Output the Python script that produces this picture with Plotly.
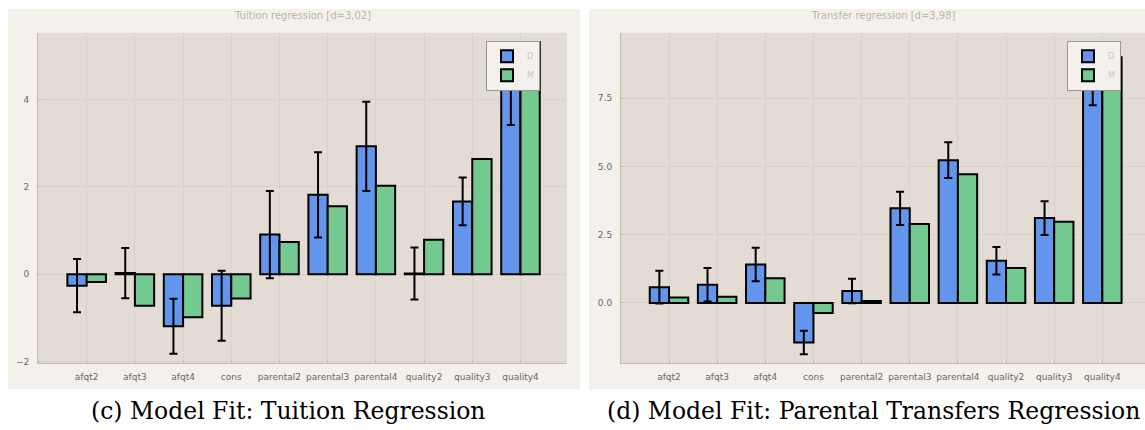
import plotly.graph_objects as go

W, H = 1145, 430

categories = ["afqt2", "afqt3", "afqt4", "cons", "parental2",
              "parental3", "parental4", "quality2", "quality3", "quality4"]

# Tuition regression
tuition_D = [-0.26, 0.03, -1.19, -0.72, 0.91, 1.82, 2.93, 0.02, 1.67, 4.30]
tuition_D_err = [0.61, 0.575, 0.63, 0.80, 1.00, 0.975, 1.02, 0.595, 0.545, 0.88]
tuition_M = [-0.175, -0.72, -0.98, -0.555, 0.74, 1.56, 2.03, 0.79, 2.64, 5.32]

# Transfer regression
transfer_D = [0.58, 0.67, 1.41, -1.45, 0.44, 3.47, 5.23, 1.55, 3.11, 8.40]
transfer_D_err = [0.60, 0.615, 0.615, 0.43, 0.45, 0.61, 0.655, 0.505, 0.62, 1.16]
transfer_M = [0.20, 0.23, 0.91, -0.365, 0.07, 2.89, 4.72, 1.28, 2.98, 9.0]

tuition_title = "Tuition regression [d=3,02]"
transfer_title = "Transfer regression [d=3,98]"
caption_left = "(c) Model Fit: Tuition Regression"
caption_right = "(d) Model Fit: Parental Transfers Regression"

left_yticks = [-2, 0, 2, 4]
left_yticklabels = ["\u22122", "0", "2", "4"]
right_yticks = [0, 2.5, 5, 7.5]
right_yticklabels = ["0.0", "2.5", "5.0", "7.5"]

BLUE = "#6495ED"
GREEN = "#74C990"
CREAM = "#F4F1EC"
PLOTBG = "#E2DCD5"
GRID = "#DAD2C9"
AXIS = "#C3B8AC"
TICKTXT = "#6E6464"
TITLETXT = "#BDB4AB"

def px(x):
    return x / W

def py(y):
    return 1 - y / H

fig = go.Figure()

err_style = dict(type="data", color="black", thickness=2, width=4, visible=True)
line_style = dict(color="black", width=2)

fig.add_trace(go.Bar(x=categories, y=tuition_D, name="D", marker=dict(color=BLUE, line=line_style),
                     error_y=dict(array=tuition_D_err, **err_style),
                     xaxis="x", yaxis="y", legend="legend", offsetgroup="D"))
fig.add_trace(go.Bar(x=categories, y=tuition_M, name="M", marker=dict(color=GREEN, line=line_style),
                     xaxis="x", yaxis="y", legend="legend", offsetgroup="M"))
fig.add_trace(go.Bar(x=categories, y=transfer_D, name="D", marker=dict(color=BLUE, line=line_style),
                     error_y=dict(array=transfer_D_err, **err_style),
                     xaxis="x2", yaxis="y2", legend="legend2", offsetgroup="D"))
fig.add_trace(go.Bar(x=categories, y=transfer_M, name="M", marker=dict(color=GREEN, line=line_style),
                     xaxis="x2", yaxis="y2", legend="legend2", offsetgroup="M"))

xdom_l = [px(38), px(567)]
xdom_r = [px(621), 1.0]
ydom = [py(366), py(33)]

tickfont = dict(family="DejaVu Sans", size=9, color=TICKTXT)

common_x = dict(type="category", showgrid=True, gridcolor=GRID, gridwidth=1,
                showline=True, linecolor=AXIS, linewidth=1, ticks="inside", ticklen=3,
                tickcolor=AXIS, tickfont=tickfont, zeroline=False, fixedrange=True,
                ticklabelstandoff=5)
common_y = dict(showgrid=True, gridcolor=GRID, gridwidth=1, showline=True, linecolor=AXIS,
                linewidth=1, ticks="inside", ticklen=3, tickcolor=AXIS, tickfont=tickfont,
                zeroline=False, tickmode="array", ticklabelstandoff=6)

legend_style = dict(xanchor="left", yanchor="top", bgcolor=CREAM,
                    bordercolor="#9D9494", borderwidth=1,
                    font=dict(family="DejaVu Sans", size=8, color="#CFC6BD"),
                    itemwidth=30, tracegroupgap=0)

fig.update_layout(
    width=W, height=H,
    margin=dict(l=0, r=0, t=0, b=0),
    paper_bgcolor="white",
    plot_bgcolor="rgba(0,0,0,0)",
    barmode="group", bargap=0.2, bargroupgap=0,
    xaxis=dict(domain=xdom_l, anchor="y", range=[-1.01, 9.965], **common_x),
    yaxis=dict(domain=ydom, anchor="x", range=[-2.04, 5.53], tickvals=left_yticks,
               ticktext=left_yticklabels, **common_y),
    xaxis2=dict(domain=xdom_r, anchor="y2", range=[-0.997, 9.886], **common_x),
    yaxis2=dict(domain=ydom, anchor="x2", range=[-2.215, 9.9], tickvals=right_yticks,
                ticktext=right_yticklabels, **common_y),
    legend=dict(x=px(486), y=py(41), **legend_style),
    legend2=dict(x=px(1067), y=py(41), **legend_style),
    showlegend=True,
)

shapes = [
    dict(type="rect", xref="paper", yref="paper", x0=px(8), x1=px(580), y0=py(392), y1=py(9),
         fillcolor=CREAM, line=dict(width=0), layer="below"),
    dict(type="rect", xref="paper", yref="paper", x0=px(589), x1=1.0, y0=py(392), y1=py(9),
         fillcolor=CREAM, line=dict(width=0), layer="below"),
    dict(type="rect", xref="x domain", yref="y domain", x0=0, x1=1, y0=0, y1=1,
         fillcolor=PLOTBG, line=dict(width=0), layer="below"),
    dict(type="rect", xref="x2 domain", yref="y2 domain", x0=0, x1=1, y0=0, y1=1,
         fillcolor=PLOTBG, line=dict(width=0), layer="below"),
]
fig.update_layout(shapes=shapes)

annotations = [
    dict(text=tuition_title, xref="paper", yref="paper", x=(xdom_l[0] + xdom_l[1]) / 2, y=py(16),
         xanchor="center", yanchor="middle", showarrow=False,
         font=dict(family="DejaVu Sans", size=10, color=TITLETXT)),
    dict(text=transfer_title, xref="paper", yref="paper", x=px(883), y=py(16),
         xanchor="center", yanchor="middle", showarrow=False,
         font=dict(family="DejaVu Sans", size=10, color=TITLETXT)),
    dict(text=caption_left, xref="paper", yref="paper", x=px(288), y=py(414),
         xanchor="center", yanchor="middle", showarrow=False,
         font=dict(family="DejaVu Serif", size=23.5, color="black")),
    dict(text=caption_right, xref="paper", yref="paper", x=px(873), y=py(414),
         xanchor="center", yanchor="middle", showarrow=False,
         font=dict(family="DejaVu Serif", size=23.5, color="black")),
]
fig.update_layout(annotations=annotations)

fig.write_html("out.html")
